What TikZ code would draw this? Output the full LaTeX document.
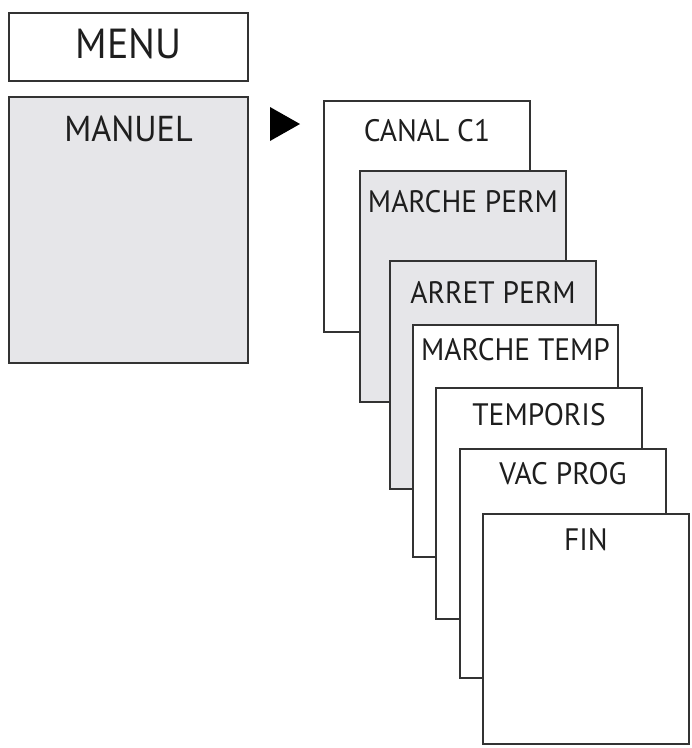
\documentclass[tikz,border=0pt]{standalone}
\usepackage{fontspec}
\setmainfont{PT Sans}[FakeStretch=0.95]
\definecolor{boxline}{HTML}{333333}
\definecolor{boxgray}{HTML}{E6E6E9}
\definecolor{txt}{HTML}{1E1E1E}
\begin{document}
\begin{tikzpicture}[x=1pt,y=-1pt,
  screen/.style={draw=boxline, line width=2pt, fill=white, anchor=north west, inner sep=0pt, minimum width=206pt, minimum height=231pt},
  graybox/.style={screen, fill=boxgray},
  lbl/.style={anchor=north, inner sep=0pt, text=txt, font=\fontsize{31}{31}\selectfont}]
\useasboundingbox (0,0) rectangle (692,748);
\node[screen, minimum width=239pt, minimum height=68pt] (menu) at (8,12) {};
\node[lbl, font=\fontsize{42}{42}\selectfont] at ([yshift=-16pt]menu.north) {MENU};
\node[graybox, minimum width=239pt, minimum height=266pt] (manuel) at (8,96) {};
\node[lbl, font=\fontsize{36}{36}\selectfont] at ([yshift=-20pt]manuel.north) {MANUEL};
\fill[black] (270,107) -- (300,124) -- (270,141) -- cycle;
\node[screen] (canal) at (323,100) {};
\node[lbl] at ([yshift=-19pt]canal.north) {CANAL C1};
\node[graybox] (mperm) at (359,170) {};
\node[lbl] at ([yshift=-20pt]mperm.north) {MARCHE PERM};
\node[graybox, minimum height=228pt] (aperm) at (389,260) {};
\node[lbl] at ([yshift=-21pt]aperm.north) {ARRET PERM};
\node[screen, minimum width=205pt, minimum height=232pt] (mtemp) at (412,324) {};
\node[lbl] at ([yshift=-14pt]mtemp.north) {MARCHE TEMP};
\node[screen] (tempo) at (435,387) {};
\node[lbl] at ([yshift=-16pt]tempo.north) {TEMPORIS};
\node[screen, minimum height=229pt] (vac) at (459,448) {};
\node[lbl] at ([yshift=-14pt]vac.north) {VAC PROG};
\node[screen, minimum height=230pt] (fin) at (482,513) {};
\node[lbl] at ([yshift=-15pt]fin.north) {FIN};
\end{tikzpicture}
\end{document}
